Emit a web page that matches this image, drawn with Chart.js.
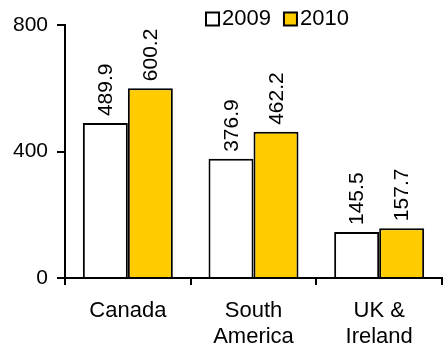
<!DOCTYPE html>
<html>
<head>
<meta charset="utf-8">
<script src="https://cdn.jsdelivr.net/npm/chart.js@4/dist/chart.umd.min.js"></script>
<style>
  html, body { margin: 0; padding: 0; background: #fff; }
  #wrap { width: 445px; height: 348px; position: relative; }
</style>
</head>
<body>
<div id="wrap"><canvas id="c" width="445" height="348"></canvas></div>
<script>
const categories = [["Canada"], ["South", "America"], ["UK &", "Ireland"]];
const seriesNames = ["2009", "2010"];
const values2009 = [489.9, 376.9, 145.5];
const values2010 = [600.2, 462.2, 157.7];
const yTicks = [0, 400, 800];

const FONT = "'Liberation Sans', Arial, sans-serif";
const FONT_SIZE = 21;
const LABEL_SIZE = 22;

// Vertical value labels just above each bar
const barValueLabels = {
  id: 'barValueLabels',
  afterDatasetsDraw(chart) {
    const ctx = chart.ctx;
    ctx.save();
    ctx.font = FONT_SIZE + "px " + FONT;
    ctx.fillStyle = '#000';
    ctx.textAlign = 'left';
    ctx.textBaseline = 'middle';
    chart.data.datasets.forEach((ds, i) => {
      chart.getDatasetMeta(i).data.forEach((bar, j) => {
        ctx.save();
        ctx.translate(bar.x + 1, bar.y - 7);
        ctx.rotate(-Math.PI / 2);
        ctx.fillText(ds.data[j].toFixed(1), 0, 0);
        ctx.restore();
      });
    });
    ctx.restore();
  }
};

// Compact legend in the top-right corner
const compactLegend = {
  id: 'compactLegend',
  afterDraw(chart) {
    const ctx = chart.ctx;
    ctx.save();
    ctx.font = LABEL_SIZE + "px " + FONT;
    ctx.textBaseline = 'middle';
    ctx.textAlign = 'left';
    let x = 206;
    const y = 19;
    chart.data.datasets.forEach(ds => {
      ctx.fillStyle = ds.backgroundColor;
      ctx.fillRect(x, y - 6.5, 13, 13);
      ctx.strokeStyle = '#000';
      ctx.lineWidth = 2;
      ctx.strokeRect(x, y - 6.5, 13, 13);
      ctx.fillStyle = '#000';
      ctx.fillText(ds.label, x + 16, y);
      x += 16 + ctx.measureText(ds.label).width + 13;
    });
    ctx.restore();
  }
};

new Chart(document.getElementById('c'), {
  type: 'bar',
  data: {
    labels: categories,
    datasets: [
      { label: seriesNames[0], data: values2009, backgroundColor: '#ffffff', borderColor: '#000', borderWidth: 2 },
      { label: seriesNames[1], data: values2010, backgroundColor: '#ffcc00', borderColor: '#000', borderWidth: 2 }
    ]
  },
  options: {
    responsive: false,
    animation: false,
    events: [],
    layout: { padding: { top: 25, right: 3, left: 0, bottom: 0 } },
    plugins: { legend: { display: false }, tooltip: { enabled: false } },
    datasets: { bar: { categoryPercentage: 0.716, barPercentage: 1.0 } },
    scales: {
      x: {
        grid: { offset: true, drawOnChartArea: false, drawTicks: true, tickLength: 7, color: '#000', lineWidth: 2 },
        border: { color: '#000', width: 2 },
        ticks: { color: '#000', font: { family: FONT, size: LABEL_SIZE, lineHeight: 1.18 }, padding: 13, maxRotation: 0, autoSkip: false },
        afterFit(s) { s.height = 70; }
      },
      y: {
        min: 0, max: 800,
        afterBuildTicks(s) { s.ticks = yTicks.map(v => ({ value: v })); },
        grid: { drawOnChartArea: false, drawTicks: true, tickLength: 8, color: '#000', lineWidth: 2 },
        border: { color: '#000', width: 2 },
        ticks: { color: '#000', font: { family: FONT, size: FONT_SIZE }, padding: 9 },
        afterFit(s) { s.width = 65; }
      }
    }
  },
  plugins: [barValueLabels, compactLegend]
});
</script>
</body>
</html>
